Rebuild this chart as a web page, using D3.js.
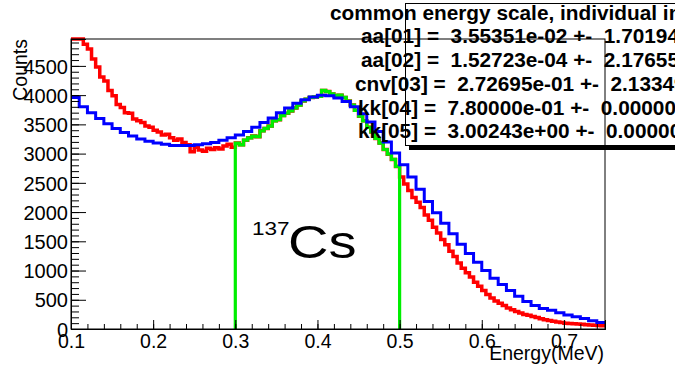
<!DOCTYPE html>
<html>
<head>
<meta charset="utf-8">
<script src="https://cdn.jsdelivr.net/npm/d3@7"></script>
<style>
  html, body { margin: 0; padding: 0; background: #fff; }
  svg { display: block; font-family: "Liberation Sans", Arial, Helvetica, sans-serif; }
</style>
</head>
<body>
<svg id="chart" width="675" height="367"></svg>
<script>
// ---- data -------------------------------------------------------------
// Measured spectrum, 0.005 MeV bins from 0.100 to 0.750 MeV
const measStart = 0.1;
const measWidth = 0.005;
const measCounts = [
  5300, 5150, 5000, 4870, 4790, 4620, 4480, 4310, 4240, 4080,
  3990, 3840, 3790, 3700, 3690, 3590, 3560, 3530, 3470, 3450,
  3400, 3370, 3320, 3330, 3270, 3230, 3250, 3190, 3150, 3030,
  3110, 3060, 3040, 3090, 3070, 3100, 3080, 3130, 3160, 3110,
  3180, 3150, 3230, 3270, 3300, 3290, 3390, 3430, 3470, 3560,
  3580, 3650, 3690, 3730, 3780, 3830, 3900, 3930, 3960, 3970,
  3980, 4080, 4060, 4020, 3990, 4000, 3960, 3900, 3830, 3740,
  3640, 3560, 3450, 3370, 3260, 3180, 3070, 2990, 2900, 2780,
  2600, 2480, 2370, 2250, 2170, 2080, 1950, 1860, 1740, 1640,
  1530, 1440, 1330, 1240, 1130, 1040, 960, 890, 800, 730,
  660, 590, 530, 480, 440, 400, 360, 330, 300, 275,
  250, 235, 215, 195, 175, 160, 145, 132, 120, 110,
  100, 95, 90, 84, 80, 74, 70, 64, 60, 55
];

// Fit window shown in green
const fitRange = [0.3, 0.5];

// Simulated spectrum, 0.01 MeV bins from 0.10 to 0.75 MeV
const simStart = 0.1;
const simWidth = 0.01;
const simCounts = [
  3960, 3800, 3700, 3600, 3510, 3430, 3360, 3300, 3250, 3210,
  3180, 3160, 3140, 3140, 3140, 3150, 3170, 3190, 3230, 3270,
  3320, 3380, 3450, 3530, 3610, 3700, 3780, 3860, 3920, 3970,
  4000, 3990, 3950, 3890, 3800, 3680, 3540, 3380, 3200, 3010,
  2810, 2600, 2390, 2180, 1990, 1810, 1630, 1450, 1290, 1140,
  1000, 870, 760, 660, 560, 470, 400, 350, 320, 280,
  240, 210, 180, 140, 110
];

const xTickLabels = [0.1, 0.2, 0.3, 0.4, 0.5, 0.6, 0.7];
const yTickLabels = [0, 500, 1000, 1500, 2000, 2500, 3000, 3500, 4000, 4500];

const statsTitle = "common energy scale, individual intensities";
const statsLines = [
  "aa[01] =  3.55351e-02 +-  1.70194e-03",
  "aa[02] =  1.52723e-04 +-  2.17655e-05",
  "cnv[03] =  2.72695e-01 +-  2.13349e-03",
  "kk[04] =  7.80000e-01 +-  0.00000e+00",
  "kk[05] =  3.00243e+00 +-  0.00000e+00"
];

// ---- layout -----------------------------------------------------------
const frame = { left: 71, right: 605, top: 39, bottom: 329 };
const xDomain = [0.1, 0.75];
const yDomain = [0, 4960];

const svg = d3.select("#chart");

const x = d3.scaleLinear().domain(xDomain).range([frame.left, frame.right]);
const y = d3.scaleLinear().domain(yDomain).range([frame.bottom, frame.top]).clamp(true);

// histogram outline: step path over the bins, optional drops to zero at the ends
function histPoints(start, width, counts, lo, hi, drop) {
  const pts = [];
  counts.forEach((c, i) => {
    const a = start + i * width, b = a + width;
    if (a < lo - 1e-9 || b > hi + 1e-9) return;
    if (drop && pts.length === 0) pts.push([a, 0]);
    pts.push([a, c], [b, c]);
  });
  if (drop) pts.push([pts[pts.length - 1][0], 0]);
  return pts;
}

const line = d3.line().x(d => x(d[0])).y(d => y(d[1]));

const plot = svg.append("g");

// measured spectrum (red)
plot.append("path")
  .attr("d", line(histPoints(measStart, measWidth, measCounts, 0.1, 0.75, false)))
  .attr("fill", "none").attr("stroke", "#ff0000").attr("stroke-width", 3.5)
  .attr("stroke-linejoin", "miter");

// fit window (green)
plot.append("path")
  .attr("d", line(histPoints(measStart, measWidth, measCounts, fitRange[0], fitRange[1], true)))
  .attr("fill", "none").attr("stroke", "#00ee00").attr("stroke-width", 3.2);

// simulated spectrum (blue)
plot.append("path")
  .attr("d", line(histPoints(simStart, simWidth, simCounts, 0.1, 0.75, false)))
  .attr("fill", "none").attr("stroke", "#0000ff").attr("stroke-width", 3);

// ---- frame and axes ---------------------------------------------------
svg.append("rect")
  .attr("x", frame.left).attr("y", frame.top)
  .attr("width", frame.right - frame.left).attr("height", frame.bottom - frame.top)
  .attr("fill", "none").attr("stroke", "#000").attr("stroke-width", 1);

const yMinor = d3.range(0, yDomain[1], 100);
const xMinor = d3.range(0.1, 0.7501, 0.02);

const yAxisMinor = svg.append("g").attr("transform", `translate(${frame.left},0)`)
  .call(d3.axisLeft(y).tickValues(yMinor).tickSize(-8).tickFormat(""));
const yAxis = svg.append("g").attr("transform", `translate(${frame.left},0)`)
  .call(d3.axisLeft(y).tickValues(yTickLabels).tickSize(-15).tickPadding(3).tickFormat(d3.format("d")));

const xAxisMinor = svg.append("g").attr("transform", `translate(0,${frame.bottom})`)
  .call(d3.axisBottom(x).tickValues(xMinor).tickSize(-5).tickFormat(""));
const xAxis = svg.append("g").attr("transform", `translate(0,${frame.bottom})`)
  .call(d3.axisBottom(x).tickValues(xTickLabels).tickSize(-9).tickPadding(0).tickFormat(d3.format(".1f")));

[yAxisMinor, yAxis, xAxisMinor, xAxis].forEach(g => {
  g.select(".domain").attr("stroke", "#000");
  g.selectAll(".tick line").attr("stroke", "#000");
});

yAxis.selectAll(".tick text")
  .attr("font-family", "Liberation Sans, Arial, sans-serif")
  .attr("font-size", 20).attr("fill", "#000")
  .attr("x", -3).attr("dy", "0.36em");

xAxis.selectAll(".tick text")
  .attr("font-family", "Liberation Sans, Arial, sans-serif")
  .attr("font-size", 19.5).attr("fill", "#000")
  .attr("y", 0).attr("dy", 0)
  .attr("transform", "translate(0,18.5)");

// axis titles
svg.append("text")
  .attr("transform", `translate(27,${frame.top}) rotate(-90)`)
  .attr("text-anchor", "end")
  .attr("font-size", 19.5)
  .text("Counts");

svg.append("text")
  .attr("x", 604).attr("y", 360)
  .attr("text-anchor", "end")
  .attr("font-size", 19.5)
  .text("Energy(MeV)");

// isotope label
const iso = svg.append("g").attr("transform", "translate(252,0) scale(1.22,1)");
iso.append("text").attr("x", 0).attr("y", 235).attr("font-size", 18.5).text("137");
iso.append("text").attr("x", 29.5).attr("y", 258).attr("font-size", 46).text("Cs");

// ---- fit statistics box -----------------------------------------------
svg.append("rect")
  .attr("x", 409).attr("y", 146).attr("width", 300).attr("height", 4)
  .attr("fill", "#000");
svg.append("rect")
  .attr("x", 405.5).attr("y", 3.5).attr("width", 300).attr("height", 142)
  .attr("fill", "none").attr("stroke", "#000").attr("stroke-width", 1);

svg.append("text")
  .attr("x", 330).attr("y", 19.5)
  .attr("font-size", 20.8).attr("font-weight", "bold")
  .text(statsTitle);

const statsX = [361, 361, 355, 358, 358];
const statsY = [43, 67, 91, 115, 138];
svg.append("g").selectAll("text").data(statsLines).join("text")
  .attr("x", (d, i) => statsX[i]).attr("y", (d, i) => statsY[i])
  .attr("font-size", 20.8).attr("font-weight", "bold")
  .attr("xml:space", "preserve")
  .style("white-space", "pre")
  .text(d => d);
</script>
</body>
</html>
